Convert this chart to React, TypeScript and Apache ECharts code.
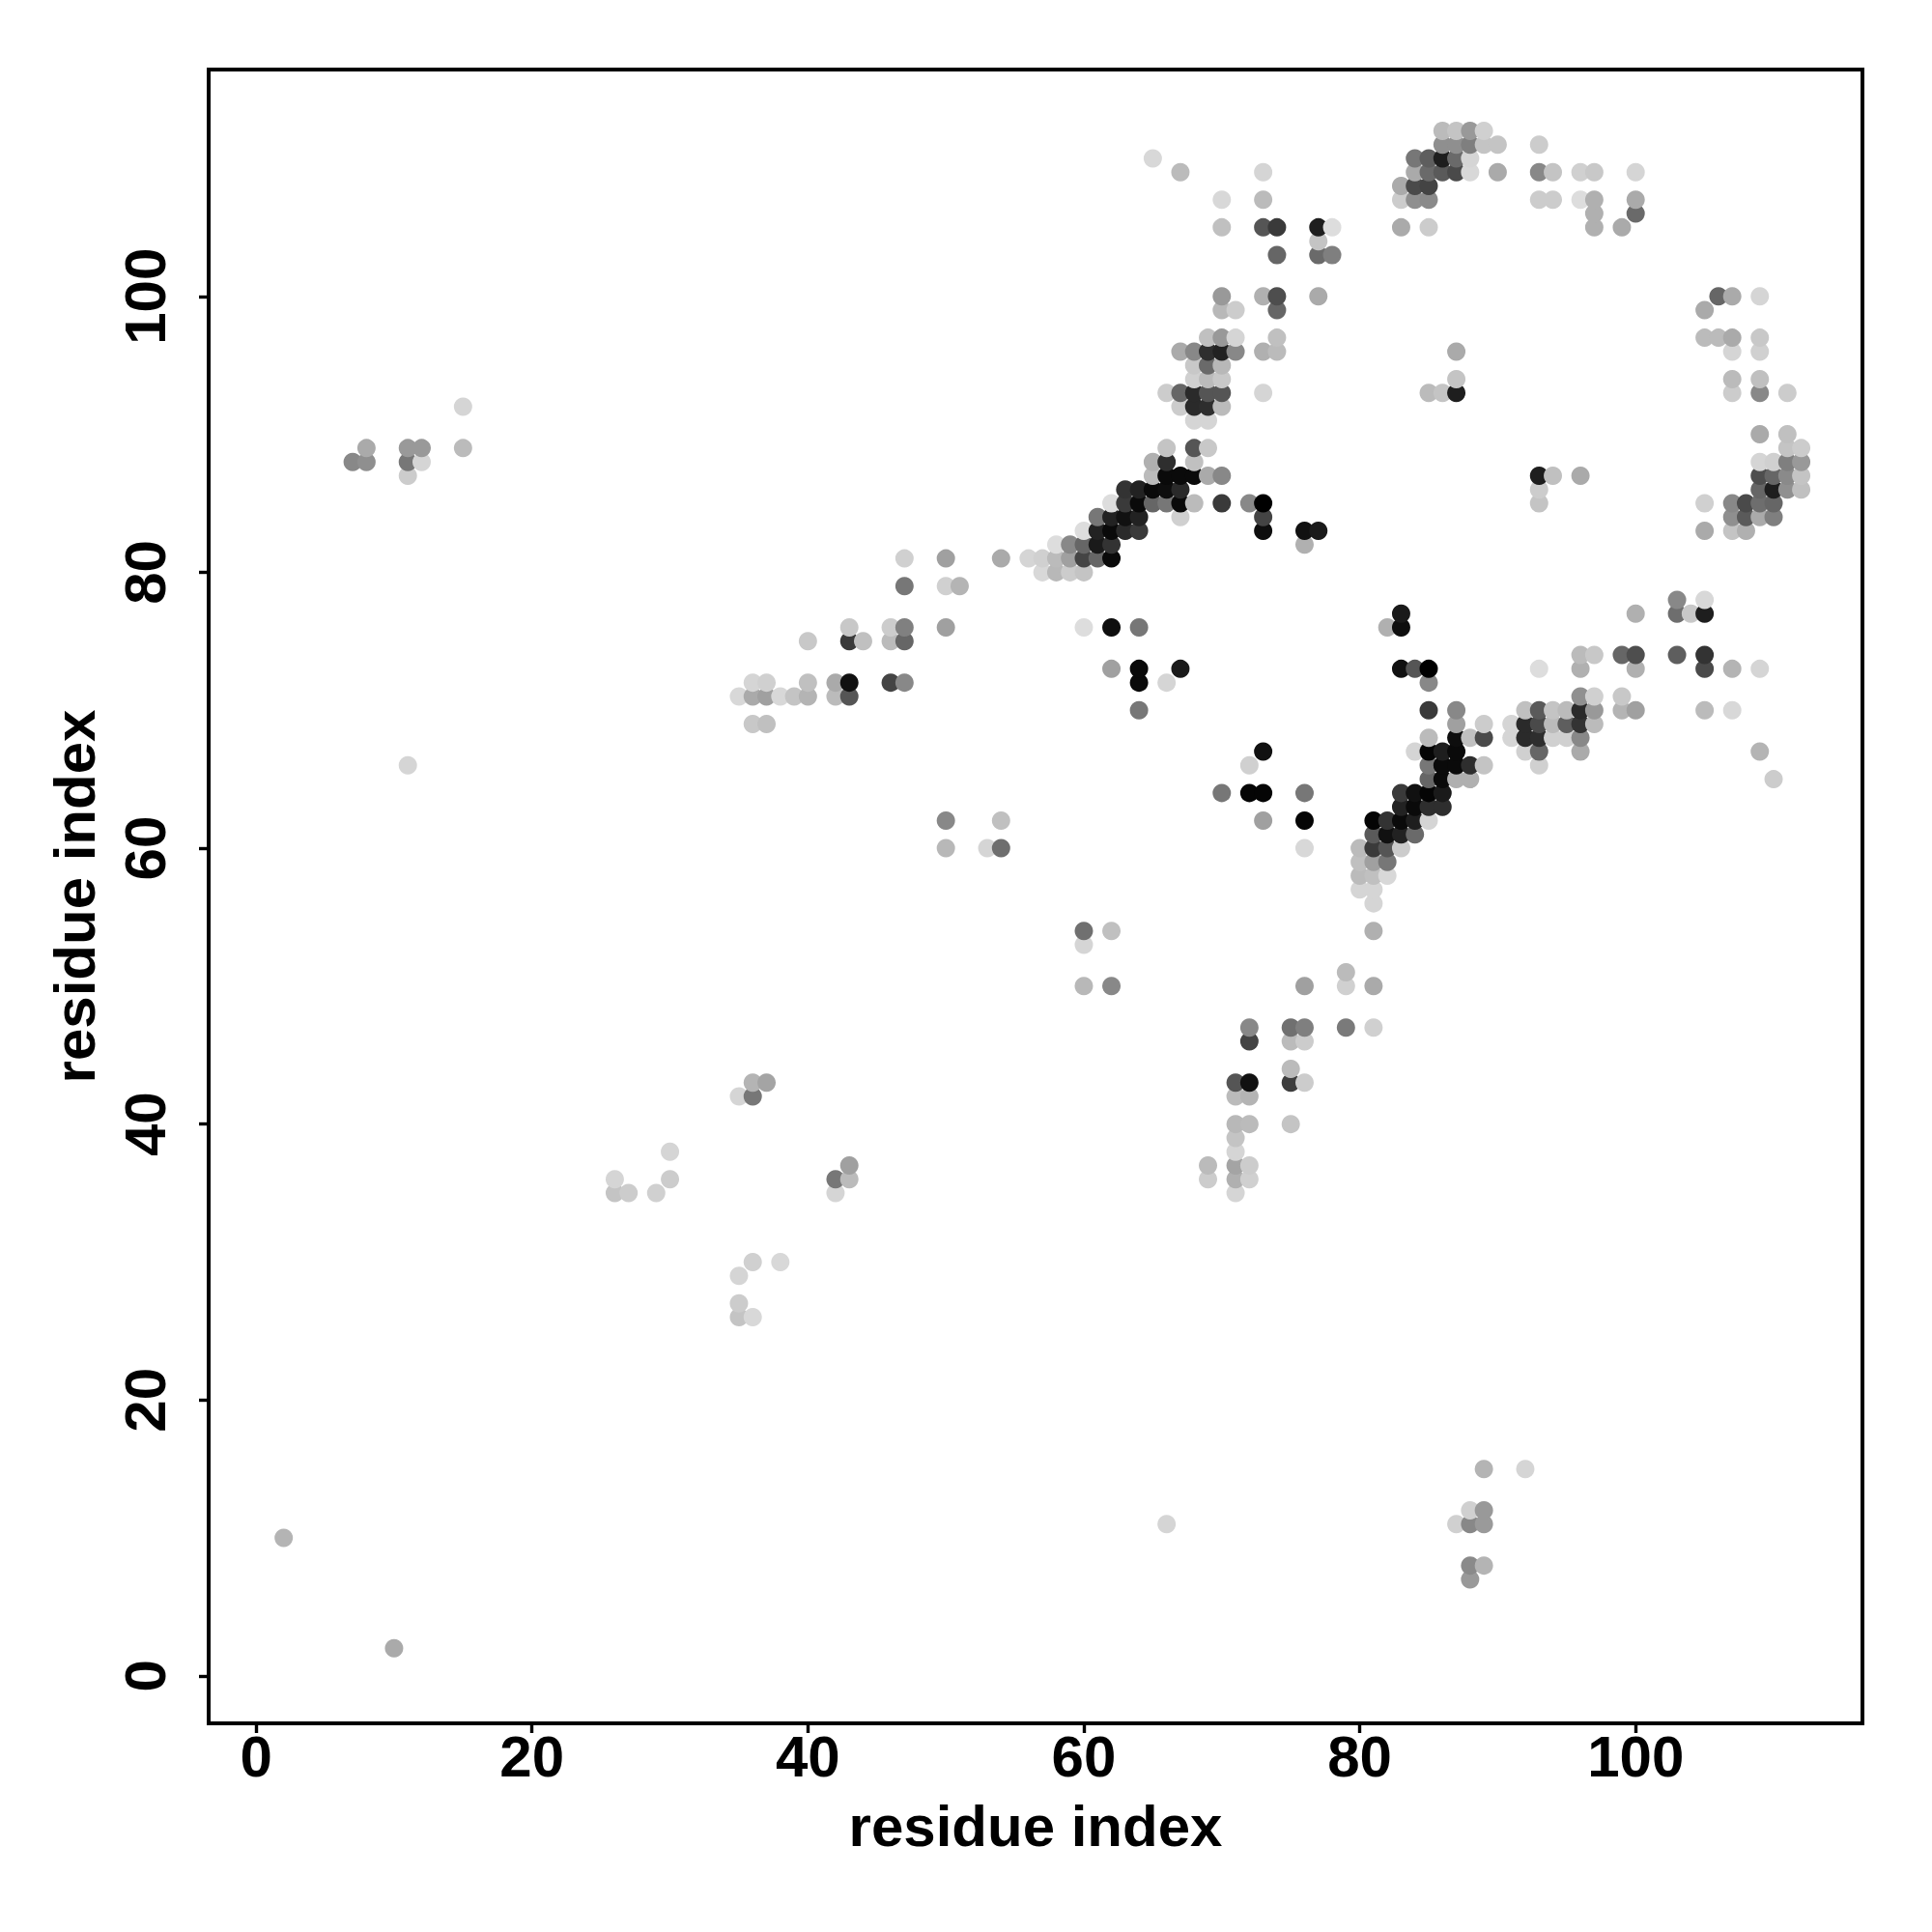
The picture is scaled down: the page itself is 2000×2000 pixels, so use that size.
import React, { useEffect, useRef } from "react";
import * as echarts from "echarts";

const axisTicks = [0, 20, 40, 60, 80, 100];
const axisTitle = "residue index";

// Each row: the y residue, the x residues on that row, and their grey levels (hex).
const rowY = [112, 111, 110, 109, 108, 107, 106, 105, 104, 103, 100, 99, 97, 96, 95, 94, 93, 92, 91, 90, 89, 88, 87, 86, 85, 84, 83, 82, 81, 80, 79, 78, 77, 76, 75, 74, 73, 72, 71, 70, 69, 68, 67, 66, 65, 64, 63, 62, 61, 60, 59, 58, 57, 56, 54, 53, 51, 50, 47, 46, 44, 43, 42, 40, 39, 38, 37, 36, 35, 30, 29, 27, 26, 15, 12, 11, 10, 8, 7, 2];

const rowX = [
  [86, 87, 88, 89],
  [86, 87, 88, 89, 90, 93],
  [65, 84, 85, 86, 87, 88],
  [67, 73, 84, 85, 86, 87, 88, 90, 93, 94, 96, 97, 100],
  [83, 84, 85],
  [70, 73, 83, 84, 85, 93, 94, 96, 97, 100],
  [97, 100],
  [70, 73, 74, 77, 78, 83, 85, 97, 99],
  [77],
  [74, 77, 78],
  [70, 73, 74, 77, 106, 107, 109],
  [70, 71, 74, 105],
  [69, 70, 71, 74, 105, 106, 107, 109],
  [67, 68, 69, 70, 71, 73, 74, 87, 107, 109],
  [68, 69, 70],
  [68, 69, 70, 87, 107, 109],
  [66, 67, 68, 69, 70, 73, 85, 86, 87, 107, 109, 111],
  [15, 67, 68, 69, 70],
  [68, 69],
  [109, 111],
  [8, 11, 12, 15, 66, 68, 69, 111, 112],
  [7, 8, 11, 12, 65, 66, 68, 109, 110, 111, 112],
  [11, 65, 66, 67, 68, 69, 70, 93, 94, 96, 109, 110, 111, 112],
  [63, 64, 65, 66, 67, 93, 109, 110, 111, 112],
  [62, 63, 64, 65, 66, 67, 68, 70, 72, 73, 93, 105, 107, 108, 109, 110],
  [61, 62, 63, 64, 67, 73, 107, 108, 109, 110],
  [60, 61, 62, 63, 64, 73, 76, 77, 105, 107, 108],
  [58, 59, 60, 61, 62, 76],
  [47, 50, 54, 56, 57, 58, 59, 60, 61, 62],
  [57, 58, 59, 60],
  [47, 50, 51],
  [103, 105],
  [83, 100, 103, 104, 105],
  [43, 46, 47, 50, 60, 62, 64, 82, 83],
  [40, 43, 44, 46, 47],
  [96, 97, 99, 100, 103, 105],
  [62, 64, 67, 83, 84, 85, 93, 96, 100, 105, 107, 109],
  [36, 37, 40, 42, 43, 46, 47, 64, 66, 85],
  [35, 36, 37, 38, 39, 40, 42, 43, 96, 97, 99],
  [64, 85, 87, 92, 93, 94, 95, 96, 97, 99, 100, 105, 107],
  [36, 37, 87, 89, 91, 92, 93, 94, 95, 96, 97],
  [85, 87, 88, 89, 91, 92, 93, 94, 95, 96],
  [73, 84, 85, 86, 87, 92, 93, 96, 109],
  [11, 72, 85, 86, 87, 88, 89, 93],
  [85, 86, 87, 88, 110],
  [70, 72, 73, 76, 83, 84, 85, 86],
  [83, 84, 85, 86],
  [50, 54, 73, 76, 81, 82, 83, 84, 85],
  [81, 82, 83, 84],
  [50, 53, 54, 76, 80, 81, 82, 83],
  [80, 81, 82],
  [80, 81, 82],
  [80, 81],
  [81],
  [60, 62, 81],
  [60],
  [79],
  [60, 62, 76, 79, 81],
  [72, 75, 76, 79, 81],
  [72, 75, 76],
  [75],
  [36, 37, 71, 72, 75, 76],
  [35, 36, 71, 72],
  [71, 72, 75],
  [71],
  [30, 71],
  [43, 69, 71, 72],
  [26, 30, 42, 43, 69, 71, 72],
  [26, 27, 29, 42, 71],
  [36, 38],
  [35],
  [35],
  [35, 36],
  [89, 92],
  [88, 89],
  [66, 87, 88, 89],
  [2],
  [88, 89],
  [88],
  [10],
];

const rowGrey = [
  ["bb", "c4", "99", "d0"],
  ["8f", "8f", "7f", "c4", "c4", "cc"],
  ["d8", "77", "5e", "1e", "6a", "d5"],
  ["bb", "d5", "aa", "6a", "5a", "4a", "d8", "aa", "88", "c4", "d0", "c8", "d5"],
  ["aa", "4a", "44"],
  ["d8", "bb", "cc", "8f", "8a", "cc", "cc", "dd", "b0", "aa"],
  ["b0", "6a"],
  ["c0", "55", "3a", "1e", "dd", "aa", "cc", "b0", "aa"],
  ["c4"],
  ["66", "6a", "7f"],
  ["99", "b0", "4e", "aa", "66", "aa", "d5"],
  ["b8", "cc", "66", "aa"],
  ["c0", "99", "d5", "c0", "bb", "bb", "aa", "c8"],
  ["aa", "88", "2e", "22", "88", "b0", "bb", "aa", "d5", "d0"],
  ["c8", "6a", "b8"],
  ["d0", "bb", "c8", "c4", "bb", "c0"],
  ["cc", "66", "2a", "55", "55", "d5", "bb", "c4", "1e", "cc", "88", "cc"],
  ["d5", "cc", "2a", "2e", "bb"],
  ["d5", "d5"],
  ["aa", "c0"],
  ["aa", "99", "99", "bb", "c4", "55", "c8", "c4", "cc"],
  ["88", "8f", "77", "d5", "b0", "2e", "c0", "d5", "d0", "7f", "99"],
  ["cc", "bb", "0a", "0a", "0a", "aa", "88", "1e", "c0", "aa", "4e", "66", "8a", "c4"],
  ["33", "22", "0a", "0e", "2a", "cc", "66", "1e", "90", "c0"],
  ["dd", "3a", "0a", "66", "77", "0a", "bb", "3a", "88", "00", "c4", "d0", "88", "4a", "6e", "66"],
  ["77", "22", "11", "22", "d0", "44", "8f", "5a", "aa", "7f"],
  ["dd", "22", "0a", "2a", "3a", "0e", "11", "1a", "aa", "c4", "b0"],
  ["dd", "88", "66", "1a", "33", "b0"],
  ["d0", "a0", "aa", "d5", "d0", "bb", "a0", "44", "66", "0a"],
  ["d8", "b8", "cc", "c4"],
  ["77", "d0", "b4"],
  ["88", "d8"],
  ["1a", "b0", "6e", "c8", "1e"],
  ["c8", "cc", "80", "a0", "dd", "0e", "77", "b0", "0e"],
  ["c8", "3a", "c0", "bb", "66"],
  ["bb", "c8", "66", "4e", "5e", "33"],
  ["a0", "0a", "1a", "11", "55", "00", "dd", "b0", "b0", "4a", "b4", "d5"],
  ["d5", "d0", "c0", "aa", "11", "44", "88", "0a", "d5", "88"],
  ["d8", "aa", "a0", "d8", "c4", "b4", "bb", "55", "90", "d0", "c8"],
  ["77", "3a", "88", "c0", "5a", "c4", "bb", "2a", "99", "b4", "a0", "bb", "d8"],
  ["c8", "c0", "a0", "cc", "d5", "2a", "4a", "bb", "5e", "33", "bb"],
  ["bb", "0e", "c0", "4a", "d5", "2a", "2e", "d0", "d0", "88"],
  ["11", "d5", "05", "1e", "0a", "d0", "66", "aa", "b4"],
  ["d5", "d0", "77", "0a", "0a", "2e", "c4", "d0"],
  ["66", "0a", "b0", "b0", "cc"],
  ["77", "05", "05", "77", "3a", "11", "05", "1a"],
  ["22", "0a", "2e", "2e"],
  ["88", "c0", "a0", "05", "05", "33", "0a", "1e", "d5"],
  ["5a", "11", "22", "6a"],
  ["b8", "d5", "6e", "d8", "bb", "3a", "55", "cc"],
  ["c0", "a0", "77"],
  ["bb", "c0", "d8"],
  ["d5", "d5"],
  ["d5"],
  ["70", "c0", "b0"],
  ["d5"],
  ["bb"],
  ["b8", "88", "a0", "d0", "aa"],
  ["88", "70", "7f", "7a", "d0"],
  ["44", "bb", "cc"],
  ["bb"],
  ["b4", "a4", "55", "11", "3e", "cc"],
  ["d5", "77", "bb", "b4"],
  ["b8", "bb", "c4"],
  ["c4"],
  ["d5", "d5"],
  ["a0", "bb", "a4", "cc"],
  ["d5", "cc", "77", "bb", "cc", "b0", "d0"],
  ["c4", "cc", "d0", "d5", "d5"],
  ["d0", "d8"],
  ["d5"],
  ["cc"],
  ["c4", "d8"],
  ["b4", "d5"],
  ["d0", "99"],
  ["d5", "d0", "88", "9a"],
  ["b4"],
  ["8a", "b4"],
  ["99"],
  ["aa"],
];

export default function App() {
  const ref = useRef<HTMLDivElement>(null);
  useEffect(() => {
    const chart = echarts.init(ref.current!, undefined, { renderer: "svg" });
    const points: { value: number[]; itemStyle: { color: string } }[] = [];
    rowY.forEach((y, r) => {
      rowX[r].forEach((x, c) => {
        const g = rowGrey[r][c];
        points.push({ value: [x, y], itemStyle: { color: `#${g}${g}${g}` } });
      });
    });
    points.sort((a, b) => a.value[0] - b.value[0] || a.value[1] - b.value[1]);
    const font = "'Liberation Sans', Arial, sans-serif";
    const axisBase = {
      type: "value" as const,
      min: -3.44,
      max: 116.44,
      name: axisTitle,
      nameLocation: "middle" as const,
      nameTextStyle: { fontFamily: font, fontWeight: "bold" as const, fontSize: 60, color: "#000" },
      splitLine: { show: false },
      axisLine: { show: false, onZero: false },
      axisTick: { show: true, length: 10, customValues: axisTicks, lineStyle: { color: "#000", width: 3.4 } },
    };
    chart.setOption({
      animation: false,
      backgroundColor: "#fff",
      grid: { show: true, left: 216, right: 72, top: 72, bottom: 216, borderColor: "#000", borderWidth: 4, backgroundColor: "transparent" },
      xAxis: {
        ...axisBase,
        nameGap: 76,
        axisLabel: { customValues: axisTicks, fontFamily: font, fontWeight: "bold", fontSize: 60, color: "#000", margin: 4, hideOverlap: false },
      },
      yAxis: {
        ...axisBase,
        nameGap: 109,
        axisLabel: { customValues: axisTicks, fontFamily: font, fontWeight: "bold", fontSize: 60, color: "#000", margin: 66, rotate: 90, hideOverlap: false, align: "center", verticalAlign: "middle" },
      },
      series: [{ type: "scatter", symbol: "circle", symbolSize: 19, data: points, itemStyle: { opacity: 1 }, clip: false }],
    });
    return () => chart.dispose();
  }, []);
  return <div ref={ref} style={{ position: "absolute", left: 0, top: 0, width: 2000, height: 2000 }} />;
}
